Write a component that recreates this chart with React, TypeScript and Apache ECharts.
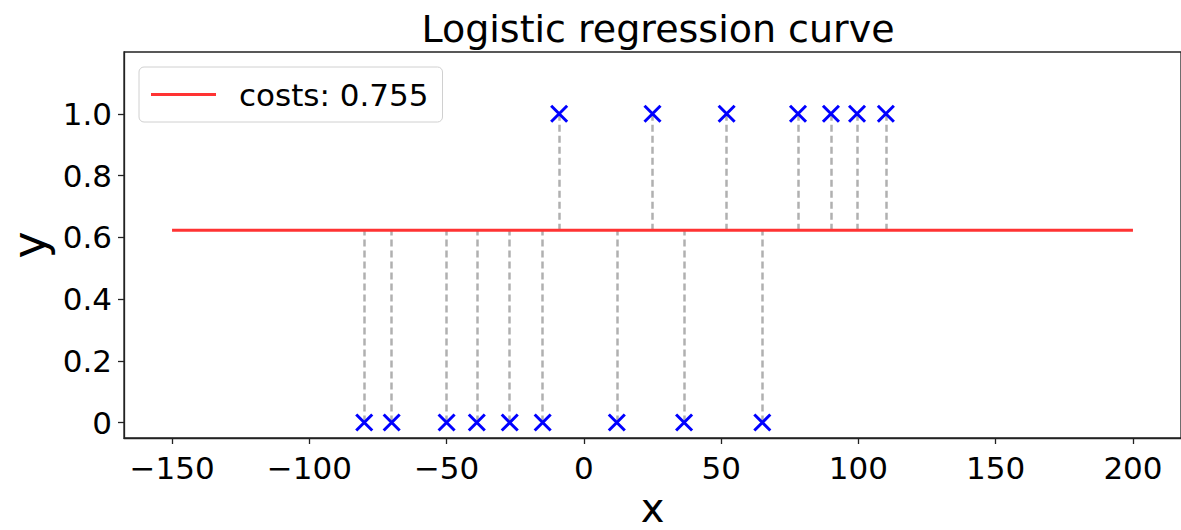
import React, { useEffect, useRef } from "react";
import * as echarts from "echarts";

const pointX = [-80, -70, -50, -39, -27, -15, -9, 12, 25, 36.5, 52, 65, 78, 90, 99.5, 110];
const pointY = [0, 0, 0, 0, 0, 0, 1, 0, 1, 0, 1, 0, 1, 1, 1, 1];
const curveX = [-150, 200];
const curveY = [0.623, 0.623];
const predicted = 0.623;
const legendLabel = "costs: 0.755";
const xTicks = [-150, -100, -50, 0, 50, 100, 150, 200];
const yTicks = [0, 0.2, 0.4, 0.6, 0.8, 1.0];
const titleText = "Logistic regression curve";

const FONT = "DejaVu Sans";

export default function App() {
  const ref = useRef<HTMLDivElement>(null);
  useEffect(() => {
    if (!ref.current) return;
    const chart = echarts.init(ref.current, null, { renderer: "svg" });
    const option: any = {
      animation: false,
      backgroundColor: "#ffffff",
      title: {
        text: titleText,
        left: 653,
        top: 5,
        textAlign: "center",
        textStyle: { fontFamily: FONT, fontSize: 38, fontWeight: "normal", color: "#000" },
      },
      legend: {
        show: true,
        left: 139,
        top: 67,
        orient: "vertical",
        padding: [12, 14, 12, 12],
        borderColor: "#d0d0d0",
        borderWidth: 1,
        borderRadius: 5,
        backgroundColor: "rgba(255,255,255,0.8)",
        itemWidth: 65,
        itemHeight: 3,
        data: [{ name: legendLabel, icon: "rect", itemStyle: { color: "#ff3333" } }],
        textStyle: {
          fontFamily: FONT,
          fontSize: 31,
          color: "#000",
          lineHeight: 31,
          padding: [0, 0, 0, 18],
        },
      },
      grid: {
        left: 124,
        right: 0,
        top: 52,
        bottom: 92,
        show: true,
        borderColor: "#222",
        borderWidth: 1.3,
        containLabel: false,
        outerBoundsMode: "none",
      },
      xAxis: {
        type: "value",
        min: -167.5,
        max: 217.5,
        name: "x",
        nameLocation: "middle",
        nameGap: 46,
        nameTextStyle: { fontFamily: FONT, fontSize: 40, color: "#000", lineHeight: 30 },
        axisLine: { show: true, onZero: false, lineStyle: { color: "#222", width: 1.3 } },
        axisTick: { show: true, length: 6, customValues: xTicks, lineStyle: { color: "#222", width: 1.3 } },
        axisLabel: {
          show: true,
          customValues: xTicks,
          margin: 14,
          fontFamily: FONT,
          fontSize: 31,
          color: "#000",
          formatter: (v: number) => (v < 0 ? "\u2212" + Math.abs(v) : String(v)),
        },
        splitLine: { show: false },
      },
      yAxis: {
        type: "value",
        min: -0.05,
        max: 1.2,
        name: "y",
        nameLocation: "middle",
        nameRotate: 90,
        nameGap: 66,
        nameTextStyle: { fontFamily: FONT, fontSize: 46, color: "#000", lineHeight: 46 },
        axisLine: { show: true, onZero: false, lineStyle: { color: "#222", width: 1.3 } },
        axisTick: { show: true, length: 6, customValues: yTicks, lineStyle: { color: "#222", width: 1.3 } },
        axisLabel: {
          show: true,
          customValues: yTicks,
          margin: 12,
          fontFamily: FONT,
          fontSize: 31,
          color: "#000",
          formatter: (v: number) => (v === 0 ? "0" : v.toFixed(1)),
        },
        splitLine: { show: false },
      },
      series: [
        {
          name: "residuals",
          type: "lines",
          coordinateSystem: "cartesian2d",
          silent: true,
          z: 2,
          lineStyle: { color: "#b0b0b0", width: 2.5, type: [7, 4], opacity: 1 },
          data: pointX.map((x, i) => ({ coords: [[x, pointY[i]], [x, predicted]] })),
        },
        {
          name: legendLabel,
          type: "line",
          z: 3,
          symbol: "none",
          lineStyle: { color: "#ff3333", width: 3 },
          itemStyle: { color: "#ff3333" },
          data: curveX.map((x, i) => [x, curveY[i]]),
        },
        {
          name: "points",
          type: "scatter",
          z: 4,
          symbol: "path://M0,0L10,10M10,0L0,10",
          symbolSize: 16,
          itemStyle: { color: "rgba(0,0,0,0)", borderColor: "#0000ff", borderWidth: 3, opacity: 1 },
          emphasis: { disabled: true },
          data: pointX.map((x, i) => [x, pointY[i]]),
        },
      ],
    };
    chart.setOption(option);
    return () => chart.dispose();
  }, []);
  return (
    <div
      ref={ref}
      style={{ position: "fixed", left: 0, top: 0, width: 1181, height: 530, background: "#fff" }}
    />
  );
}
